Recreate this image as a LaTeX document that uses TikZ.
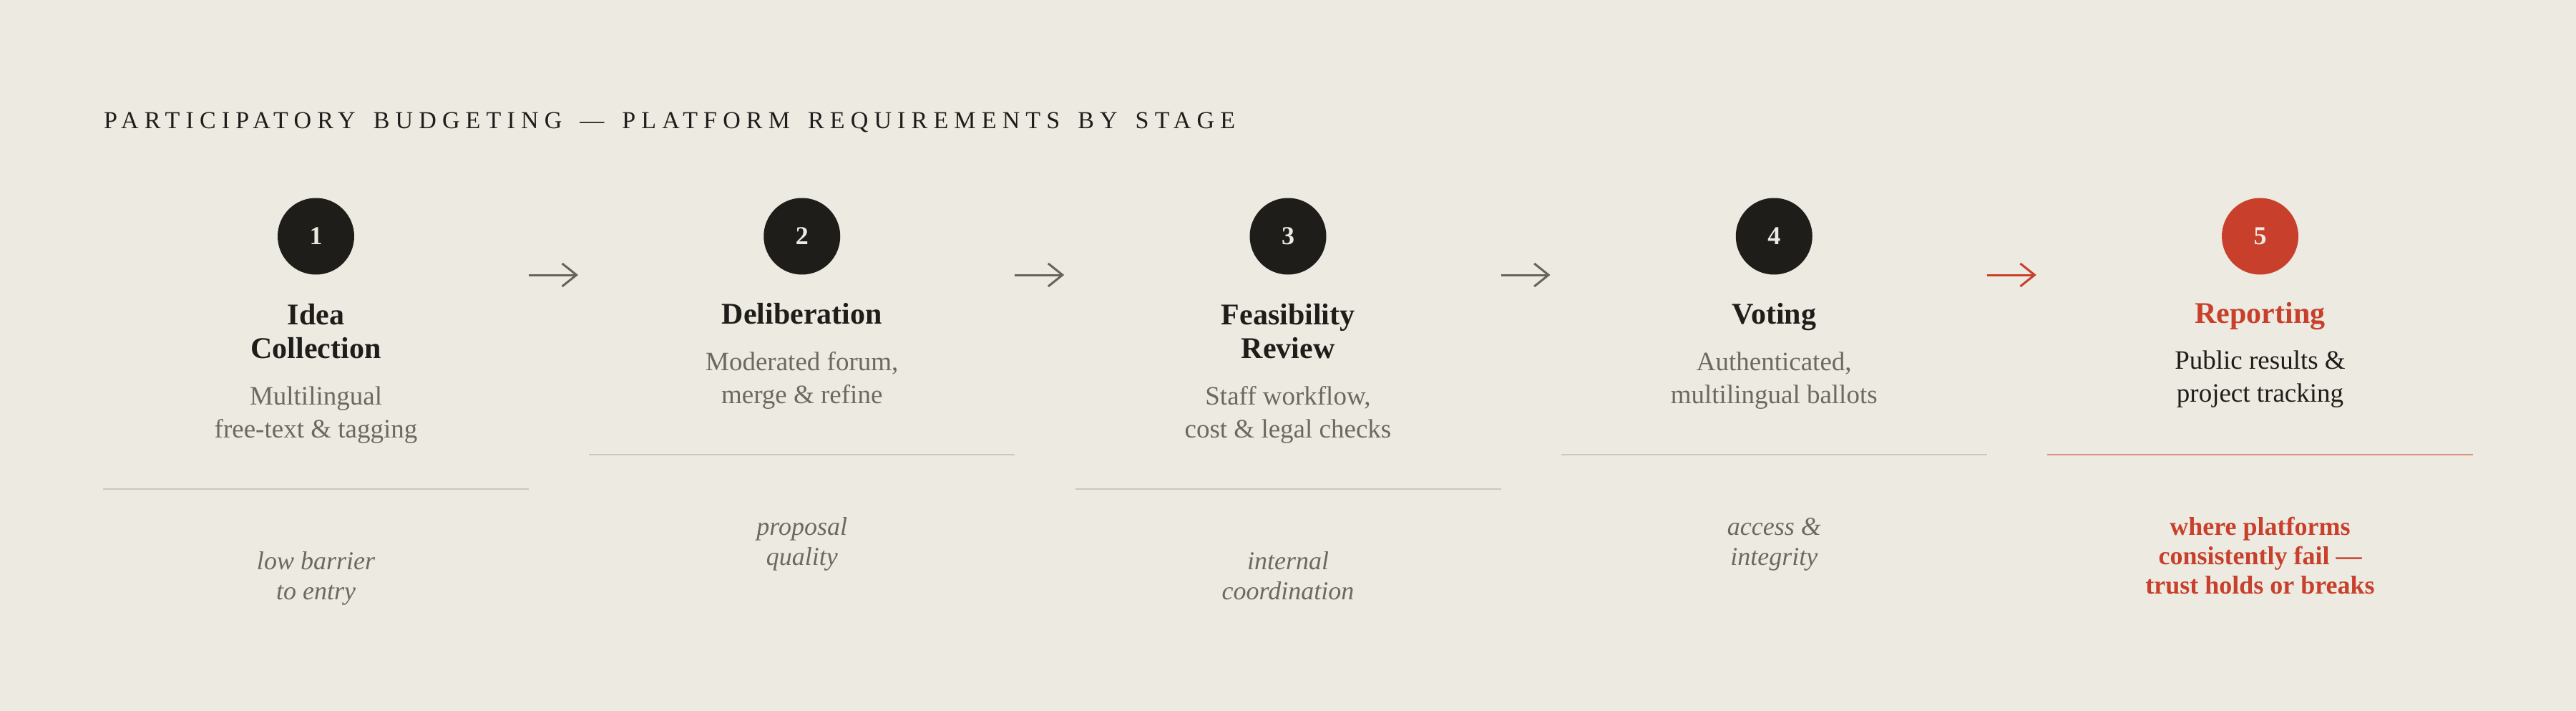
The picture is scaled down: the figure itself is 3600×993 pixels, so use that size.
\documentclass[tikz,border=0pt]{standalone}
\usepackage{fontspec}
\setmainfont{Liberation Serif}
\newfontfamily\headfont[LetterSpace=24,WordSpace=1.5]{Liberation Serif}
\usetikzlibrary{positioning}
\usetikzlibrary{arrows.meta}

\definecolor{paper}{HTML}{EDEAE2}
\definecolor{ink}{HTML}{1E1D19}
\definecolor{mute}{HTML}{6B6A62}
\definecolor{rulec}{HTML}{CCC8BE}
\definecolor{arrc}{HTML}{66645D}
\definecolor{hot}{HTML}{C8402B}
\definecolor{hotrule}{HTML}{DC9080}

\begin{document}
\begin{tikzpicture}
    [ x=1pt, y=-1pt,
    every node/.style={inner sep=0pt, align=center},
    num/.style={circle, minimum size=107pt, fill=ink, text=paper,
      font=\fontsize{36}{36}\selectfont\bfseries},
    ttl/.style={anchor=base, text=ink, font=\fontsize{42}{47}\selectfont\bfseries},
    desc/.style={anchor=base, text=mute, font=\fontsize{37}{46}\selectfont},
    note/.style={anchor=base, text=mute, font=\fontsize{36}{42}\selectfont\itshape},
    rule/.style={draw=rulec, line width=2.5pt},
    arr/.style={draw=arrc, line width=3pt, -{Straight Barb[length=20pt,width=32pt]}}
    ]

    \fill[paper] (0,0) rectangle (3600,993);
    \useasboundingbox (0,0) rectangle (3600,993);

    \node[anchor=base west, text=ink, font=\fontsize{34}{34}\headfont]
      (head) at (145,179) {PARTICIPATORY BUDGETING — PLATFORM REQUIREMENTS BY STAGE};

    % stages 1 to 4 (anchors sit on the last line)
    \foreach \i/\t/\d/\n/\o in {
        1/{Idea\\Collection}/{Multilingual\\free-text \& tagging}/{low barrier\\to entry}/48,
        2/{Deliberation}/{Moderated forum,\\merge \& refine}/{proposal\\quality}/0,
        3/{Feasibility\\Review}/{Staff workflow,\\cost \& legal checks}/{internal\\coordination}/48,
        4/{Voting}/{Authenticated,\\multilingual ballots}/{access \&\\integrity}/0}
    {
      \pgfmathsetmacro\cx{441.5+679.25*(\i-1)}
      \node[num] (n\i) at (\cx,330) {\i};
      \node[ttl] (t\i) at (\cx,452+\o) {\t};
      \node[desc] (d\i) at (\cx,563+\o) {\d};
      \coordinate (l\i) at (\cx-297.5,635+\o);
      \coordinate (r\i) at (\cx+297.5,635+\o);
      \draw[rule] (l\i) -- (r\i);
      \node[note] (c\i) at (\cx,789+\o) {\n};
      \coordinate (a\i) at (\cx+297.5,384);
      \coordinate (b\i) at (\cx+366.5,384);
    }

    % stage 5
    \node[num, fill=hot] (n5) at (3158.5,330) {5};
    \node[ttl, text=hot] (t5) at (3158.5,451) {Reporting};
    \node[desc, text=ink] (d5) at (3158.5,561) {Public results \&\\project tracking};
    \coordinate (l5) at (2861,635);
    \coordinate (r5) at (3456,635);
    \draw[rule, draw=hotrule] (l5) -- (r5);
    \node[note, text=hot, font=\fontsize{36}{41}\selectfont\bfseries]
      (c5) at (3158.5,829) {where platforms\\consistently fail —\\trust holds or breaks};

    % arrows
    \foreach \i in {1,2,3}
      \draw[arr] (a\i) -- (b\i);
    \draw[arr, draw=hot] (a4) -- (b4);
  \end{tikzpicture}
\end{document}
